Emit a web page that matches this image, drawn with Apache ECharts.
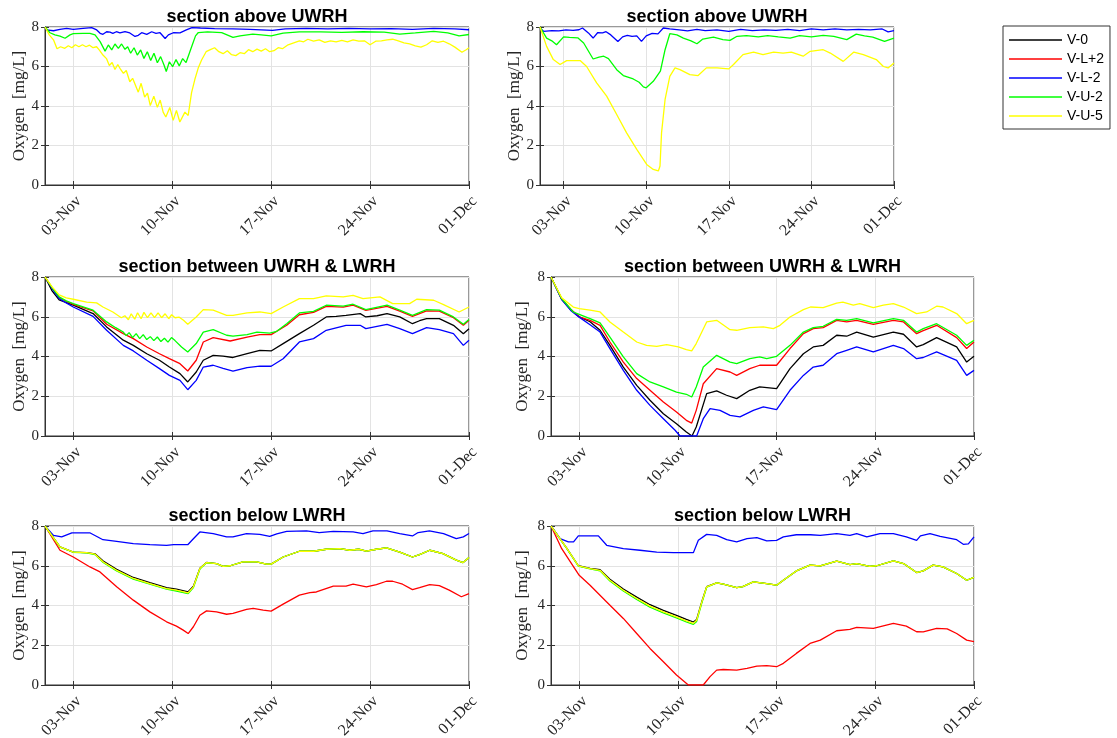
<!DOCTYPE html>
<html>
<head>
<meta charset="utf-8">
<script src="https://cdn.jsdelivr.net/npm/echarts@6/dist/echarts.min.js"></script>
<style>
html,body{margin:0;padding:0;background:#fff;}
#chart{width:1117px;height:738px;}
</style>
</head>
<body>
<div id="chart"></div>
<script>
// ---- data: x = days since 01-Nov, y = oxygen [mg/L] ----
const seriesNames = ['V-0', 'V-L+2', 'V-L-2', 'V-U-2', 'V-U-5'];
const xTickDays = [2, 9, 16, 23, 30];
const xTickLabels = ['03-Nov', '10-Nov', '17-Nov', '24-Nov', '01-Dec'];
const yTicks = [0, 2, 4, 6, 8];

// section above UWRH (left)
const p1_VLm2 = [[0,8.0],[0.1,7.85],[0.6,7.81],[1.06,7.88],[1.53,7.93],[2.0,7.88],[2.7,7.93],[3.3,7.97],[3.66,7.85],[3.9,7.68],[4.1,7.63],[4.36,7.76],[4.6,7.74],[4.8,7.68],[5.05,7.76],[5.3,7.7],[5.66,7.76],[6.0,7.7],[6.37,7.52],[6.6,7.58],[6.84,7.71],[7.2,7.63],[7.55,7.76],[7.85,7.68],[8.14,7.71],[8.5,7.42],[8.73,7.6],[9.08,7.71],[9.55,7.7],[10.0,7.85],[10.4,7.97],[11,7.95],[12,7.92],[13.3,7.9],[14.5,7.88],[16.1,7.83],[17,7.9],[18.5,7.93],[20,7.9],[21.5,7.93],[23,7.9],[24.5,7.92],[26,7.88],[27.5,7.93],[29,7.9],[30,7.86]];
const p1_VU2 = [[0,8.0],[0.35,7.71],[0.7,7.6],[1.06,7.54],[1.42,7.43],[1.77,7.6],[2.0,7.66],[2.7,7.68],[3.18,7.68],[3.54,7.6],[3.9,7.26],[4.25,6.78],[4.48,7.09],[4.72,6.84],[4.95,7.14],[5.19,6.92],[5.42,7.14],[5.66,6.87],[5.85,7.0],[6.06,6.67],[6.3,6.95],[6.53,6.58],[6.77,6.84],[7.0,6.41],[7.24,6.75],[7.48,6.3],[7.71,6.67],[7.95,6.19],[8.18,6.5],[8.42,6.08],[8.58,5.75],[8.8,6.24],[9.03,5.99],[9.27,6.35],[9.5,6.03],[9.74,6.4],[9.98,6.2],[10.2,6.65],[10.45,7.15],[10.65,7.55],[10.85,7.72],[11.5,7.75],[12.5,7.72],[13.3,7.47],[13.8,7.55],[14.7,7.64],[15.3,7.6],[16.0,7.55],[16.85,7.69],[18,7.75],[19.5,7.75],[21,7.73],[22.5,7.76],[24,7.74],[25.1,7.64],[26.2,7.7],[27.5,7.78],[28.5,7.7],[29.3,7.55],[30,7.62]];
const p1_VU5 = [[0,8.0],[0.3,7.6],[0.6,7.35],[0.85,6.9],[1.1,7.0],[1.4,6.92],[1.65,7.05],[1.9,6.95],[2.15,7.1],[2.4,7.0],[2.65,7.1],[2.9,7.0],[3.15,7.08],[3.4,6.95],[3.65,7.0],[3.85,6.83],[4.1,6.58],[4.35,6.4],[4.55,6.05],[4.75,6.2],[4.95,5.85],[5.15,6.1],[5.35,5.85],[5.55,5.65],[5.75,5.8],[6.0,5.23],[6.2,5.4],[6.4,5.05],[6.6,4.7],[6.8,5.15],[7.05,4.45],[7.25,4.65],[7.45,4.02],[7.7,4.5],[7.95,3.93],[8.15,4.3],[8.36,3.69],[8.55,3.44],[8.83,3.93],[9.07,3.27],[9.3,3.77],[9.54,3.19],[9.65,3.2],[9.9,3.69],[10.13,3.52],[10.37,4.68],[10.6,5.34],[10.84,5.92],[11.08,6.33],[11.4,6.75],[11.7,6.85],[12.0,6.95],[12.3,6.75],[12.6,6.65],[12.9,6.8],[13.2,6.6],[13.5,6.55],[13.8,6.7],[14.1,6.65],[14.4,6.85],[14.7,6.75],[15.0,6.88],[15.3,6.78],[15.6,6.9],[15.9,6.75],[16.2,6.8],[16.5,6.95],[16.8,6.9],[17.2,7.1],[17.6,7.2],[18.0,7.3],[18.3,7.25],[18.6,7.38],[19.0,7.28],[19.4,7.35],[19.8,7.22],[20.2,7.3],[20.6,7.25],[21.0,7.32],[21.4,7.25],[21.8,7.35],[22.2,7.28],[22.6,7.3],[23.0,7.1],[23.4,7.28],[23.8,7.3],[24.2,7.35],[24.6,7.38],[25.0,7.3],[25.4,7.2],[25.8,7.15],[26.2,7.05],[26.6,6.98],[27.0,7.1],[27.4,7.3],[27.8,7.22],[28.2,7.28],[28.6,7.15],[29.0,6.98],[29.5,6.72],[29.8,6.85],[30,6.95]];

// section above UWRH (right)
const p2_VLm2 = [[0,7.95],[0.3,7.78],[1,7.82],[1.6,7.8],[2.2,7.85],[2.8,7.83],[3.3,7.86],[3.6,7.95],[4.1,7.7],[4.5,7.44],[4.9,7.72],[5.3,7.7],[5.6,7.76],[6.0,7.6],[6.6,7.27],[7.0,7.5],[7.4,7.58],[7.8,7.52],[8.2,7.55],[8.6,7.27],[9.0,7.55],[9.5,7.68],[10.0,7.65],[10.45,7.95],[11,7.9],[11.8,7.85],[12.5,7.8],[13.3,7.88],[14,7.82],[15,7.85],[16,7.78],[17,7.88],[18,7.82],[19,7.85],[20,7.83],[21,7.88],[22,7.82],[23,7.9],[24,7.85],[25,7.9],[26,7.85],[27,7.88],[28,7.85],[29,7.9],[29.5,7.75],[30,7.82]];
const p2_VU2 = [[0,8.0],[0.56,7.44],[1.0,7.3],[1.4,7.1],[2.0,7.5],[2.5,7.47],[3.2,7.45],[3.7,7.19],[4.5,6.38],[5.0,6.48],[5.4,6.52],[5.8,6.4],[6.5,5.84],[7.06,5.54],[7.9,5.37],[8.4,5.2],[8.76,4.97],[9.0,4.92],[9.6,5.25],[10.2,5.76],[10.6,6.85],[11.0,7.66],[11.6,7.6],[12.15,7.44],[12.8,7.3],[13.3,7.15],[13.8,7.39],[14.7,7.49],[15.5,7.36],[16.1,7.32],[16.7,7.53],[17.5,7.56],[18.5,7.5],[19.3,7.56],[20.2,7.5],[21.2,7.44],[22.0,7.56],[23,7.5],[24,7.58],[24.9,7.53],[26,7.36],[26.8,7.64],[27.5,7.55],[28.2,7.49],[29.2,7.27],[30,7.44]];
const p2_VU5 = [[0,8.0],[0.56,7.02],[1.13,6.35],[1.7,6.1],[2.26,6.3],[3.4,6.3],[3.95,6.0],[4.8,5.17],[5.65,4.5],[6.5,3.57],[7.34,2.64],[8.2,1.8],[9.04,1.04],[9.6,0.79],[10.03,0.71],[10.17,0.96],[10.3,2.64],[10.6,4.33],[11.0,5.5],[11.44,5.93],[11.86,5.84],[12.7,5.59],[13.4,5.54],[14.1,5.93],[15,5.93],[16,5.88],[16.4,6.1],[17.2,6.6],[18.1,6.73],[18.9,6.6],[19.8,6.73],[20.6,6.68],[21.3,6.73],[22.3,6.52],[22.9,6.77],[24,6.85],[24.6,6.68],[25.7,6.26],[26.6,6.73],[27.4,6.6],[28.5,6.35],[29.1,6.0],[29.5,5.93],[30,6.18]];

// section between UWRH & LWRH (left)
const p3_V0 = [[0,8],[0.5,7.3],[1,6.85],[2,6.58],[3.4,6.16],[4.36,5.49],[5.54,4.82],[6.25,4.56],[7.2,4.14],[8.1,3.81],[8.8,3.47],[9.55,3.14],[10.1,2.72],[10.7,3.22],[11.2,3.81],[11.9,4.06],[12.6,4.02],[13.3,3.95],[14.3,4.14],[15.2,4.31],[16,4.28],[16.85,4.65],[18,5.15],[19,5.57],[19.9,5.99],[20.6,6.02],[21.3,6.07],[22.3,6.16],[22.7,5.99],[23.5,6.05],[24.2,6.16],[25.1,5.99],[26,5.65],[26.5,5.8],[27,5.91],[27.9,5.91],[28.9,5.57],[29.6,5.15],[30,5.4]];
const p3_VLp2 = [[0,8],[0.5,7.45],[1,6.97],[1.5,6.78],[2,6.62],[3.4,6.3],[4.36,5.62],[5.54,5.15],[6.25,4.9],[7.2,4.48],[8.1,4.14],[8.8,3.89],[9.55,3.64],[10.1,3.27],[10.7,3.81],[11.2,4.73],[11.9,4.95],[13.1,4.78],[14.3,4.98],[15.2,5.1],[16,5.1],[17.1,5.57],[18,6.1],[19,6.22],[19.9,6.52],[21.1,6.48],[21.8,6.58],[22.7,6.32],[24.2,6.52],[25.1,6.28],[26,6.02],[27,6.3],[27.9,6.28],[28.9,5.95],[29.6,5.57],[30,5.82]];
const p3_VLm2 = [[0,8],[0.5,7.42],[1,6.92],[1.5,6.7],[2,6.49],[3.4,6.02],[4.36,5.32],[5.54,4.56],[6.25,4.28],[7.2,3.81],[8.1,3.39],[8.8,3.05],[9.55,2.8],[10.1,2.33],[10.7,2.8],[11.2,3.47],[11.9,3.56],[12.6,3.4],[13.3,3.27],[14.3,3.44],[15.2,3.52],[16,3.51],[16.85,3.89],[18,4.73],[19,4.9],[19.9,5.32],[21.3,5.57],[22.3,5.57],[22.7,5.4],[24.2,5.62],[25.1,5.4],[26,5.15],[27,5.45],[27.9,5.35],[28.9,5.15],[29.6,4.56],[30,4.82]];
const p3_VU2 = [[0,8],[0.5,7.47],[1,7.0],[1.5,6.8],[2,6.66],[3.4,6.33],[4.36,5.74],[5.0,5.45],[5.54,5.23],[5.75,5.05],[5.95,5.2],[6.2,4.95],[6.45,5.15],[6.7,4.9],[6.95,5.1],[7.2,4.85],[7.45,5.0],[7.7,4.8],[7.95,4.98],[8.2,4.75],[8.45,4.92],[8.7,4.72],[8.95,4.95],[9.2,4.8],[9.66,4.48],[10.1,4.23],[10.7,4.65],[11.2,5.23],[11.9,5.35],[12.85,5.07],[13.3,5.02],[14.3,5.1],[15,5.23],[15.9,5.18],[16.4,5.27],[17.1,5.65],[18,6.19],[19,6.27],[19.9,6.58],[21.1,6.53],[21.8,6.63],[22.7,6.36],[24.2,6.58],[25.1,6.33],[26,6.07],[27,6.36],[27.9,6.33],[28.9,5.99],[29.6,5.62],[30,5.86]];
const p3_VU5 = [[0,8],[0.5,7.5],[1,7.1],[1.5,6.95],[2,6.88],[2.95,6.74],[3.65,6.7],[4.1,6.49],[4.8,6.24],[5.4,5.95],[5.65,6.05],[5.9,5.85],[6.1,6.15],[6.35,5.88],[6.55,6.2],[6.8,5.9],[7.0,6.22],[7.25,5.95],[7.5,6.2],[7.75,5.95],[8.0,6.2],[8.25,5.95],[8.5,6.15],[8.75,5.9],[8.96,6.1],[9.2,5.95],[9.5,5.98],[9.8,5.82],[10.1,5.62],[10.7,5.99],[11.2,6.36],[11.9,6.33],[12.85,6.07],[13.3,6.07],[14.3,6.19],[15.2,6.24],[16,6.16],[16.85,6.49],[18,6.91],[19,6.91],[19.9,7.05],[21.1,7.0],[21.8,7.08],[22.5,6.91],[23.7,7.0],[24.6,6.66],[25.8,6.66],[26.3,6.88],[27.5,6.83],[28.2,6.61],[29.3,6.24],[30,6.49]];

// section between UWRH & LWRH (right)
const p4_V0 = [[0,8],[0.76,6.88],[1.4,6.35],[2,6.0],[2.77,5.75],[3.48,5.32],[4.18,4.56],[5.13,3.47],[6.08,2.55],[7.02,1.8],[7.97,1.12],[8.9,0.62],[9.6,0.2],[10.0,0],[10.3,0.45],[11.04,2.13],[11.75,2.27],[12.45,2.05],[13.17,1.88],[14.1,2.3],[14.8,2.47],[16,2.38],[16.95,3.39],[17.9,4.14],[18.6,4.48],[19.3,4.56],[20.26,5.07],[20.97,5.02],[21.68,5.23],[22.86,4.98],[24.28,5.23],[25,5.12],[25.93,4.48],[26.4,4.6],[27.35,4.95],[28.77,4.48],[29.48,3.72],[30,4.01]];
const p4_VLp2 = [[0,8],[0.76,6.9],[1.4,6.38],[2,5.99],[2.77,5.82],[3.48,5.57],[4.18,4.73],[5.13,3.72],[6.08,2.89],[7.02,2.3],[7.97,1.71],[8.9,1.21],[9.6,0.79],[9.98,0.65],[10.3,1.29],[10.8,2.63],[11.75,3.39],[12.7,3.22],[13.17,3.05],[14.1,3.39],[14.8,3.56],[16,3.56],[16.95,4.4],[17.9,5.15],[18.6,5.4],[19.3,5.45],[20.26,5.82],[20.97,5.74],[21.68,5.82],[22.86,5.62],[24.28,5.82],[25,5.74],[25.93,5.15],[26.4,5.3],[27.35,5.57],[28.77,4.95],[29.48,4.4],[30,4.73]];
const p4_VLm2 = [[0,8],[0.76,6.86],[1.4,6.32],[2,5.98],[2.77,5.6],[3.48,5.23],[4.18,4.4],[5.13,3.3],[6.08,2.3],[7.02,1.54],[7.97,0.87],[8.8,0.29],[9.15,0],[10.33,0],[10.8,0.87],[11.28,1.38],[11.99,1.29],[12.7,1.04],[13.4,0.96],[14.35,1.29],[15.06,1.46],[16,1.33],[16.95,2.3],[17.9,3.05],[18.6,3.47],[19.3,3.56],[20.26,4.14],[20.97,4.31],[21.68,4.48],[22.86,4.23],[24.28,4.56],[25,4.4],[25.93,3.89],[26.4,3.95],[27.35,4.23],[28.77,3.81],[29.48,3.05],[30,3.3]];
const p4_VU2 = [[0,8],[0.76,6.91],[1.58,6.24],[2,6.12],[2.77,5.91],[3.48,5.69],[4.18,4.98],[5.13,3.98],[6.08,3.14],[7.02,2.72],[7.97,2.47],[8.9,2.21],[9.6,2.1],[9.98,1.96],[10.3,2.47],[10.8,3.47],[11.75,4.06],[12.7,3.72],[13.17,3.64],[14.1,3.89],[14.8,3.98],[15.3,3.89],[16,4.01],[16.95,4.56],[17.9,5.23],[18.6,5.45],[19.3,5.52],[20.26,5.87],[20.97,5.82],[21.68,5.91],[22.86,5.69],[24.28,5.91],[25,5.82],[25.93,5.23],[26.4,5.4],[27.35,5.65],[28.77,5.07],[29.48,4.56],[30,4.82]];
const p4_VU5 = [[0,8],[0.76,6.95],[1.58,6.49],[2,6.41],[2.77,6.33],[3.48,6.24],[4.18,5.74],[5.13,5.23],[6.08,4.73],[6.78,4.56],[7.5,4.51],[8.2,4.6],[9.03,4.48],[9.6,4.35],[9.98,4.28],[10.3,4.65],[11.04,5.74],[11.75,5.82],[12.7,5.35],[13.17,5.32],[14.1,5.45],[15.06,5.49],[15.77,5.4],[16.24,5.57],[16.95,5.99],[17.9,6.36],[18.4,6.49],[19.3,6.46],[20.26,6.69],[20.7,6.74],[21.44,6.58],[21.9,6.66],[22.86,6.46],[23.57,6.58],[24.28,6.66],[25,6.49],[25.93,6.16],[26.64,6.24],[27.35,6.53],[27.8,6.49],[28.77,6.16],[29.48,5.65],[30,5.82]];

// section below LWRH (left)
const p5_V0 = [[0,8],[1.06,6.95],[2,6.69],[2.95,6.66],[3.54,6.6],[4.12,6.24],[5.07,5.82],[6.25,5.41],[7.42,5.15],[8.6,4.9],[9.3,4.82],[10.13,4.69],[10.5,4.97],[10.96,5.87],[11.43,6.17],[12.14,6.11],[12.6,5.97],[13.1,6.0],[14.0,6.19],[14.97,6.19],[15.67,6.08],[16,6.08],[16.85,6.44],[18.0,6.73],[19.0,6.73],[19.9,6.83],[20.86,6.86],[21.56,6.78],[22.2,6.83],[22.74,6.74],[23.45,6.83],[24.16,6.9],[25.1,6.69],[26,6.44],[26.5,6.56],[27.22,6.78],[28.16,6.61],[29.1,6.28],[29.58,6.16],[30,6.41]];
const p5_VLp2 = [[0,8],[1.06,6.78],[2,6.44],[3.18,5.94],[3.89,5.69],[5.07,4.94],[6.25,4.27],[7.42,3.68],[8.6,3.18],[9.3,2.96],[9.78,2.76],[10.13,2.59],[10.5,2.93],[10.96,3.51],[11.43,3.73],[12.14,3.68],[12.85,3.56],[13.3,3.6],[14.26,3.8],[14.73,3.85],[15.44,3.77],[16,3.72],[16.85,4.07],[18.0,4.52],[18.74,4.65],[19.2,4.68],[20.4,4.97],[21.3,4.97],[21.8,5.07],[22.74,4.94],[23.45,5.05],[24.16,5.22],[24.6,5.22],[25.3,5.07],[26,4.8],[26.5,4.9],[27.22,5.05],[27.9,5.0],[28.6,4.77],[29.46,4.44],[30,4.6]];
const p5_VLm2 = [[0,8],[0.6,7.53],[1.18,7.45],[1.9,7.65],[3.2,7.65],[4.1,7.31],[5.07,7.23],[6.25,7.11],[7.42,7.06],[8.6,7.03],[9.1,7.06],[10.1,7.06],[10.5,7.36],[10.96,7.7],[11.9,7.62],[12.85,7.45],[13.3,7.45],[14.26,7.62],[15.2,7.58],[15.9,7.48],[16.4,7.6],[17.1,7.73],[18.5,7.75],[19.4,7.67],[20.4,7.73],[21.8,7.7],[22.5,7.62],[23.2,7.75],[24.2,7.75],[25.1,7.62],[26,7.5],[26.4,7.67],[27.2,7.75],[28.2,7.62],[29.1,7.36],[29.6,7.45],[30,7.62]];
const p5_VU2 = [[0,8],[1.06,6.94],[2,6.68],[2.95,6.65],[3.54,6.56],[4.12,6.16],[5.07,5.74],[6.25,5.33],[7.42,5.07],[8.6,4.82],[9.3,4.73],[10.13,4.6],[10.5,4.9],[10.96,5.84],[11.43,6.15],[12.14,6.11],[12.6,5.97],[13.1,6.0],[14.0,6.19],[14.97,6.19],[15.67,6.08],[16,6.08],[16.85,6.44],[18.0,6.73],[19.0,6.73],[19.9,6.83],[20.86,6.86],[21.56,6.78],[22.2,6.83],[22.74,6.74],[23.45,6.83],[24.16,6.9],[25.1,6.69],[26,6.44],[26.5,6.56],[27.22,6.78],[28.16,6.61],[29.1,6.28],[29.58,6.16],[30,6.41]];
const p5_VU5 = [[0,8],[1.06,6.95],[2,6.69],[2.95,6.66],[3.54,6.58],[4.12,6.19],[5.07,5.77],[6.25,5.36],[7.42,5.1],[8.6,4.85],[9.3,4.77],[10.13,4.64],[10.5,4.94],[10.96,5.86],[11.43,6.16],[12.14,6.11],[12.6,5.97],[13.1,6.0],[14.0,6.19],[14.97,6.19],[15.67,6.08],[16,6.08],[16.85,6.44],[18.0,6.73],[19.0,6.73],[19.9,6.83],[20.86,6.86],[21.56,6.78],[22.2,6.83],[22.74,6.74],[23.45,6.83],[24.16,6.9],[25.1,6.69],[26,6.44],[26.5,6.56],[27.22,6.78],[28.16,6.61],[29.1,6.28],[29.58,6.16],[30,6.41]];

// section below LWRH (right)
const p6_V0 = [[0,8],[1.1,6.9],[1.94,6.0],[2.77,5.87],[3.48,5.8],[4.18,5.32],[5.13,4.83],[6.08,4.42],[7.02,4.04],[7.97,3.75],[8.9,3.5],[9.6,3.3],[10.1,3.17],[10.33,3.3],[10.7,4.2],[11.04,4.95],[11.75,5.14],[12.22,5.07],[13.17,4.9],[13.6,4.95],[14.35,5.19],[15.3,5.1],[16,5.02],[16.48,5.27],[17.4,5.74],[18.37,6.03],[19.1,5.99],[20.26,6.23],[21.2,6.06],[21.68,6.11],[22.6,5.97],[23.1,6.0],[24.28,6.24],[25,6.11],[25.93,5.66],[26.4,5.74],[27.1,6.03],[27.8,5.94],[28.77,5.61],[29.48,5.27],[30,5.41]];
const p6_VLp2 = [[0,8],[0.76,6.86],[2,5.52],[2.77,5.02],[3.95,4.18],[5.13,3.35],[6.08,2.59],[7.02,1.84],[7.97,1.17],[8.9,0.5],[9.74,0],[10.8,0],[11.28,0.42],[11.75,0.75],[12.22,0.78],[13.17,0.75],[13.9,0.84],[14.6,0.95],[15.3,0.97],[16,0.92],[16.48,1.09],[17.4,1.59],[18.37,2.09],[19.1,2.26],[20.26,2.73],[21.2,2.8],[21.68,2.9],[22.86,2.85],[24.28,3.1],[25.2,2.96],[25.93,2.68],[26.4,2.67],[27.35,2.85],[28.1,2.82],[28.77,2.59],[29.48,2.26],[30,2.18]];
const p6_VLm2 = [[0,8],[0.64,7.36],[1.23,7.2],[1.6,7.2],[1.94,7.5],[3.36,7.5],[3.95,7.03],[5.13,6.86],[6.31,6.78],[7.5,6.69],[8.68,6.66],[10.1,6.66],[10.45,7.28],[11.04,7.58],[11.75,7.53],[12.46,7.31],[13.17,7.2],[13.9,7.36],[14.6,7.41],[15.3,7.25],[16,7.28],[16.48,7.45],[17.4,7.56],[18.4,7.56],[19.1,7.53],[20.26,7.62],[21.2,7.53],[21.68,7.62],[22.4,7.45],[23.33,7.62],[24.28,7.62],[25.2,7.45],[25.93,7.28],[26.2,7.5],[26.88,7.62],[27.6,7.48],[28.77,7.31],[29.24,7.08],[29.6,7.1],[30,7.45]];
const p6_VU2 = [[0,8],[1.1,6.89],[1.94,5.98],[2.77,5.84],[3.48,5.74],[4.18,5.23],[5.13,4.73],[6.08,4.3],[7.02,3.92],[7.97,3.63],[8.9,3.38],[9.6,3.18],[10.1,3.05],[10.33,3.2],[10.7,4.14],[11.04,4.92],[11.75,5.14],[12.22,5.07],[13.17,4.9],[13.6,4.95],[14.35,5.19],[15.3,5.1],[16,5.02],[16.48,5.27],[17.4,5.74],[18.37,6.03],[19.1,5.99],[20.26,6.23],[21.2,6.06],[21.68,6.11],[22.6,5.97],[23.1,6.0],[24.28,6.24],[25,6.11],[25.93,5.66],[26.4,5.74],[27.1,6.03],[27.8,5.94],[28.77,5.61],[29.48,5.27],[30,5.41]];
const p6_VU5 = [[0,8],[1.1,6.9],[1.94,5.99],[2.77,5.86],[3.48,5.77],[4.18,5.27],[5.13,4.77],[6.08,4.35],[7.02,3.97],[7.97,3.68],[8.9,3.43],[9.6,3.23],[10.1,3.1],[10.33,3.26],[10.7,4.18],[11.04,4.94],[11.75,5.14],[12.22,5.07],[13.17,4.9],[13.6,4.95],[14.35,5.19],[15.3,5.1],[16,5.02],[16.48,5.27],[17.4,5.74],[18.37,6.03],[19.1,5.99],[20.26,6.23],[21.2,6.06],[21.68,6.11],[22.6,5.97],[23.1,6.0],[24.28,6.24],[25,6.11],[25.93,5.66],[26.4,5.74],[27.1,6.03],[27.8,5.94],[28.77,5.61],[29.48,5.27],[30,5.41]];

// ---- layout & style ----
const colors = ['#000000', '#ff0000', '#0000ff', '#00ff00', '#ffff00'];
const panels = [
  { title: 'section above UWRH', grid: {left: 45, top: 27, width: 424, height: 158}, titleTop: 8, nameGap: 17,
    data: [null, null, p1_VLm2, p1_VU2, p1_VU5] },
  { title: 'section above UWRH', grid: {left: 540, top: 27, width: 354, height: 158}, titleTop: 8, nameGap: 14,
    data: [null, null, p2_VLm2, p2_VU2, p2_VU5] },
  { title: 'section between UWRH & LWRH', grid: {left: 45, top: 277, width: 424, height: 159}, titleTop: 258, nameGap: 17,
    data: [p3_V0, p3_VLp2, p3_VLm2, p3_VU2, p3_VU5] },
  { title: 'section between UWRH & LWRH', grid: {left: 551, top: 277, width: 423, height: 159}, titleTop: 258, nameGap: 20,
    data: [p4_V0, p4_VLp2, p4_VLm2, p4_VU2, p4_VU5] },
  { title: 'section below LWRH', grid: {left: 45, top: 526, width: 424, height: 159}, titleTop: 507, nameGap: 17,
    data: [p5_V0, p5_VLp2, p5_VLm2, p5_VU2, p5_VU5] },
  { title: 'section below LWRH', grid: {left: 551, top: 526, width: 423, height: 159}, titleTop: 507, nameGap: 20,
    data: [p6_V0, p6_VLp2, p6_VLm2, p6_VU2, p6_VU5] }
];

const axisColor = '#333333';
const textColor = '#262626';
const gridColor = '#e3e3e3';
const serif = '"Liberation Serif", "DejaVu Serif", serif';
const sans = '"Liberation Sans", Arial, sans-serif';

const option = {
  animation: false,
  backgroundColor: '#ffffff',
  title: panels.map(p => ({
    text: p.title,
    left: p.grid.left + p.grid.width / 2,
    top: p.titleTop,
    textAlign: 'center',
    padding: 0,
    textStyle: {fontFamily: sans, fontWeight: 'bold', fontSize: 18, color: '#000'}
  })),
  legend: {
    orient: 'vertical',
    left: 1003, top: 26,
    padding: [7, 6, 6, 6],
    itemGap: 5,
    itemWidth: 53,
    itemHeight: 1.5,
    icon: 'rect',
    borderColor: axisColor,
    borderWidth: 1,
    backgroundColor: '#ffffff',
    data: seriesNames,
    textStyle: {fontFamily: sans, fontSize: 14, lineHeight: 14, color: '#000'}
  },
  grid: panels.map(p => Object.assign({show: true, borderColor: axisColor, borderWidth: 1, backgroundColor: '#fff',
    containLabel: false, outerBoundsMode: 'none'}, p.grid)),
  xAxis: panels.map((p, i) => ({
    type: 'value', gridIndex: i, min: 0, max: 30, position: 'bottom',
    axisLine: {show: true, onZero: false, lineStyle: {color: axisColor, width: 1}},
    axisTick: {show: true, inside: true, length: 4, customValues: xTickDays, lineStyle: {color: axisColor}},
    axisLabel: {customValues: xTickDays, rotate: 45, margin: 8, align: 'right', verticalAlign: 'top',
      fontFamily: serif, fontSize: 16, color: textColor,
      formatter: v => xTickLabels[xTickDays.indexOf(Math.round(v))] || ''},
    splitLine: {show: true, lineStyle: {color: gridColor, width: 1}}
  })).concat(panels.map((p, i) => ({
    type: 'value', gridIndex: i, min: 0, max: 30, position: 'top',
    axisLine: {show: false},
    axisTick: {show: true, inside: true, length: 4, customValues: xTickDays, lineStyle: {color: axisColor}},
    axisLabel: {show: false},
    splitLine: {show: false}
  }))),
  yAxis: panels.map((p, i) => ({
    type: 'value', gridIndex: i, min: yTicks[0], max: yTicks[yTicks.length - 1], interval: 2, position: 'left',
    name: 'Oxygen  [mg/L]', nameLocation: 'middle', nameGap: p.nameGap, nameRotate: 90,
    nameTextStyle: {fontFamily: serif, fontSize: 17, color: textColor},
    axisLine: {show: true, lineStyle: {color: axisColor, width: 1}},
    axisTick: {show: true, inside: true, length: 4, lineStyle: {color: axisColor}},
    axisLabel: {margin: 6, fontFamily: serif, fontSize: 15, color: textColor},
    splitLine: {show: true, lineStyle: {color: gridColor, width: 1}}
  })).concat(panels.map((p, i) => ({
    type: 'value', gridIndex: i, min: yTicks[0], max: yTicks[yTicks.length - 1], interval: 2, position: 'right',
    axisLine: {show: false},
    axisTick: {show: true, inside: true, length: 4, lineStyle: {color: axisColor}},
    axisLabel: {show: false},
    splitLine: {show: false}
  }))),
  series: []
};

panels.forEach((p, i) => {
  p.data.forEach((d, k) => {
    if (!d) return;
    option.series.push({
      type: 'line', name: seriesNames[k], xAxisIndex: i, yAxisIndex: i,
      data: d, symbol: 'none', showSymbol: false, smooth: false, clip: true,
      lineStyle: {color: colors[k], width: 1.3}, itemStyle: {color: colors[k]},
      z: 2 + k
    });
  });
});

const chart = echarts.init(document.getElementById('chart'), null, {renderer: 'canvas'});
chart.setOption(option);
</script>
</body>
</html>
